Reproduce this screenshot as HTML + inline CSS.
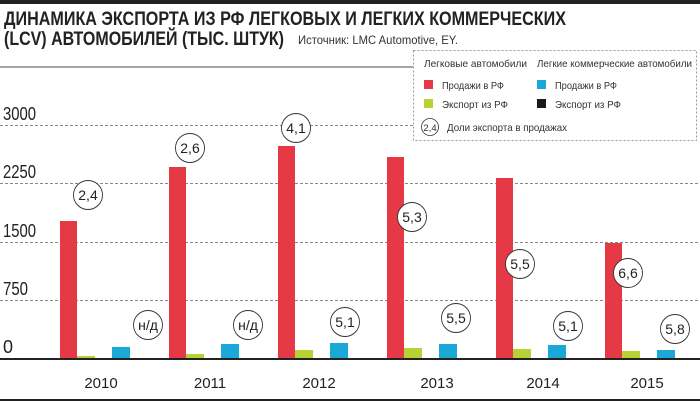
<!DOCTYPE html>
<html><head><meta charset="utf-8"><style>
html,body{margin:0;padding:0;background:#fff;}
svg{display:block;font-family:"Liberation Sans","DejaVu Sans",sans-serif;}
</style></head><body>
<svg width="700" height="402" viewBox="0 0 700 402" xmlns="http://www.w3.org/2000/svg">
<rect x="0" y="0" width="700" height="4" fill="#222"/>
<text x="4" y="25" font-size="19" font-weight="bold" fill="#222" textLength="562" lengthAdjust="spacingAndGlyphs">ДИНАМИКА ЭКСПОРТА ИЗ РФ ЛЕГКОВЫХ И ЛЕГКИХ КОММЕРЧЕСКИХ</text>
<text x="4" y="45" font-size="19" font-weight="bold" fill="#222" textLength="280" lengthAdjust="spacingAndGlyphs">(LCV) АВТОМОБИЛЕЙ (ТЫС. ШТУК)</text>
<text x="298" y="44" font-size="12" fill="#333" textLength="160" lengthAdjust="spacingAndGlyphs">Источник: LMC Automotive, EY.</text>
<line x1="0" y1="67" x2="413" y2="67" stroke="#888" stroke-width="1.5"/>
<rect x="413.5" y="50.5" width="283" height="90" fill="#fff" stroke="#999" stroke-dasharray="2,2"/>
<g font-size="10.5" fill="#333">
<text x="424" y="67" textLength="103" lengthAdjust="spacingAndGlyphs">Легковые автомобили</text>
<text x="537" y="67" textLength="155" lengthAdjust="spacingAndGlyphs">Легкие коммерческие автомобили</text>
<rect x="424" y="80" width="9" height="9" fill="#e63946"/>
<text x="442" y="89" textLength="62" lengthAdjust="spacingAndGlyphs">Продажи в РФ</text>
<rect x="537" y="80" width="9" height="9" fill="#1aa8d8"/>
<text x="555" y="89" textLength="62" lengthAdjust="spacingAndGlyphs">Продажи в РФ</text>
<rect x="424" y="99" width="9" height="9" fill="#b5d334"/>
<text x="442" y="108" textLength="66" lengthAdjust="spacingAndGlyphs">Экспорт из РФ</text>
<rect x="537" y="99" width="9" height="9" fill="#1a1a1a"/>
<text x="555" y="108" textLength="66" lengthAdjust="spacingAndGlyphs">Экспорт из РФ</text>
<circle cx="430" cy="127" r="8.5" fill="#fff" stroke="#333" stroke-width="0.8"/>
<text x="430" y="131" font-size="9.5" text-anchor="middle">2,4</text>
<text x="447" y="131" textLength="120" lengthAdjust="spacingAndGlyphs">Доли экспорта в продажах</text>
</g>
<g stroke="#888" stroke-dasharray="3,2" stroke-width="1">
<line x1="0" y1="125.5" x2="413" y2="125.5"/>
<line x1="0" y1="183.5" x2="700" y2="183.5"/>
<line x1="0" y1="242.5" x2="700" y2="242.5"/>
<line x1="0" y1="300.5" x2="700" y2="300.5"/>
</g>
<g font-size="18" fill="#222">
<text x="3" y="120" textLength="33" lengthAdjust="spacingAndGlyphs">3000</text>
<text x="3" y="178" textLength="33" lengthAdjust="spacingAndGlyphs">2250</text>
<text x="3" y="237" textLength="33" lengthAdjust="spacingAndGlyphs">1500</text>
<text x="3" y="295" textLength="25" lengthAdjust="spacingAndGlyphs">750</text>
<text x="3" y="353">0</text>
</g>
<g>
<rect x="60" y="221" width="17" height="138" fill="#e63946"/>
<rect x="77" y="356" width="18" height="3" fill="#b5d334"/>
<rect x="112" y="347" width="18" height="12" fill="#1aa8d8"/>
<rect x="169" y="167" width="17" height="192" fill="#e63946"/>
<rect x="186" y="354" width="18" height="5" fill="#b5d334"/>
<rect x="221" y="344" width="18" height="15" fill="#1aa8d8"/>
<rect x="278" y="146" width="17" height="213" fill="#e63946"/>
<rect x="295" y="350" width="18" height="9" fill="#b5d334"/>
<rect x="330" y="343" width="18" height="16" fill="#1aa8d8"/>
<rect x="387" y="157" width="17" height="202" fill="#e63946"/>
<rect x="404" y="348" width="18" height="11" fill="#b5d334"/>
<rect x="439" y="344" width="18" height="15" fill="#1aa8d8"/>
<rect x="496" y="178" width="17" height="181" fill="#e63946"/>
<rect x="513" y="349" width="18" height="10" fill="#b5d334"/>
<rect x="548" y="345" width="18" height="14" fill="#1aa8d8"/>
<rect x="605" y="243" width="17" height="116" fill="#e63946"/>
<rect x="622" y="351" width="18" height="8" fill="#b5d334"/>
<rect x="657" y="350" width="18" height="9" fill="#1aa8d8"/>
</g>
<line x1="0" y1="359" x2="700" y2="359" stroke="#222" stroke-width="2"/>
<g font-size="14" fill="#222" text-anchor="middle">
<g fill="#fff" stroke="#333" stroke-width="0.9">
<circle cx="88" cy="195" r="14.5"/><circle cx="190" cy="148" r="14.5"/><circle cx="296" cy="128" r="14.5"/>
<circle cx="412" cy="217" r="14.5"/><circle cx="520" cy="264" r="14.5"/><circle cx="628" cy="273" r="14.5"/>
<circle cx="148" cy="325" r="14.5"/><circle cx="248" cy="325" r="14.5"/><circle cx="345" cy="322" r="14.5"/>
<circle cx="456" cy="318" r="14.5"/><circle cx="568" cy="326" r="14.5"/><circle cx="675" cy="329" r="14.5"/>
</g>
<text x="88" y="200">2,4</text><text x="190" y="153">2,6</text><text x="296" y="133">4,1</text>
<text x="412" y="222">5,3</text><text x="520" y="269">5,5</text><text x="628" y="278">6,6</text>
<text x="148" y="330">н/д</text><text x="248" y="330">н/д</text><text x="345" y="327">5,1</text>
<text x="456" y="323">5,5</text><text x="568" y="331">5,1</text><text x="675" y="334">5,8</text>
</g>
<g font-size="15" fill="#222" text-anchor="middle">
<text x="101" y="388">2010</text><text x="210" y="388">2011</text><text x="319" y="388">2012</text>
<text x="437" y="388">2013</text><text x="543" y="388">2014</text><text x="647" y="388">2015</text>
</g>
<line x1="0" y1="400" x2="700" y2="400" stroke="#222" stroke-width="2"/>
</svg>
</body></html>
